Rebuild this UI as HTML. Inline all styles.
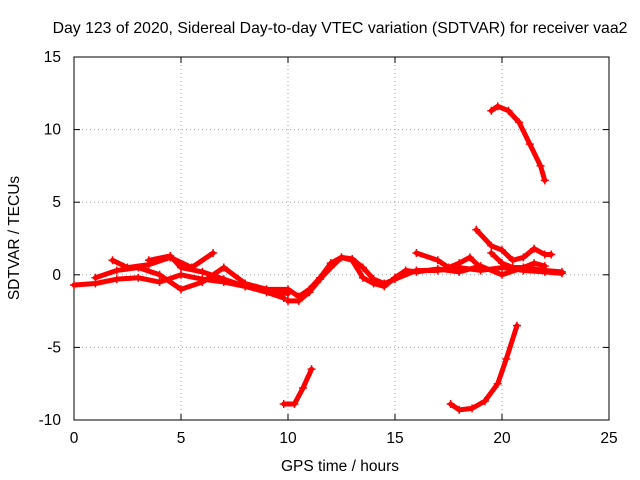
<!DOCTYPE html>
<html><head><meta charset="utf-8"><style>
body{margin:0;background:#fff}
svg{display:block;font-family:"Liberation Sans",sans-serif;font-size:15.5px}
</style></head><body>
<svg id="c" width="640" height="480">
<text x="340" y="33" text-anchor="middle" style="font-size:15.8px">Day 123 of 2020, Sidereal Day-to-day VTEC variation (SDTVAR) for receiver vaa2</text>
<text x="340" y="471" text-anchor="middle">GPS time / hours</text>
<text transform="translate(19,238) rotate(-90)" text-anchor="middle">SDTVAR / TECUs</text>
<g id="grid"></g><g id="axes"></g><g id="marks"></g>
</svg>
<script>
const xTicks=[0,5,10,15,20,25];
const yTicks=[-10,-5,0,5,10,15];
const s1=[[0,-0.7],[1,-0.6],[2,-0.3],[3,-0.2],[4,-0.5],[5,0],[6,-0.3],[7,-0.5],[8,-0.8],[9,-1.2],[9.8,-1.6]];
const s2=[[1.8,1.0],[2.5,0.5],[3.5,0.7],[4.5,1.2],[5.5,0.5],[6.5,1.5]];
const s3=[[1,-0.2],[2,0.3],[3,0.5],[4,0],[5,-1],[6,-0.5],[7,0.5],[8,-0.6],[9,-1.0],[10,-1.3]];
const s4=[[3.5,1.0],[4.5,1.3],[5,0.5],[6,0.2],[7,-0.3],[8,-0.8],[9,-1.0],[10,-1.0],[10.5,-1.5],[11,-1.0],[11.5,-0.2],[12,0.8],[12.5,1.2],[13,1.1],[13.5,0.5],[14,-0.3],[14.5,-0.6],[15,-0.3],[16,0.3],[17,0.3],[18,0.5],[19,0.3],[20,0.5],[21,0.3],[22,0.2],[22.8,0.1]];
const s5=[[10,-1.8],[10.5,-1.8],[11,-1.2],[11.5,-0.3],[12,0.5],[12.5,1.2],[13,1.0],[13.5,-0.2],[14,-0.6],[14.5,-0.8],[15,-0.2],[15.5,0.3],[16,0.2],[17,0.4],[18,0.2],[19,0.6],[20,0.0],[21,0.5],[22,0.3],[22.8,0.2]];
const s6=[[16,1.5],[17,1.0],[17.5,0.5],[18,0.8],[18.5,1.2],[19,0.5]];
const s7=[[18.8,3.1],[19.5,2.0],[20,1.7],[20.5,1.0],[21,1.2],[21.5,1.8],[22,1.4],[22.3,1.4]];
const s8=[[19.5,1.5],[20,0.8],[20.5,0.5],[21,0.5],[21.5,0.8],[22,0.6]];
const s9=[[19.5,11.3],[19.8,11.6],[20.3,11.3],[20.8,10.5],[21.3,9],[21.8,7.5],[22,6.5]];
const s10=[[9.8,-8.9],[10.3,-8.9],[10.7,-7.8],[11.1,-6.5]];
const s11=[[17.6,-8.9],[18,-9.3],[18.6,-9.2],[19.2,-8.7],[19.8,-7.5],[20.2,-5.8],[20.7,-3.5]];
const series=[s1,s2,s3,s4,s5,s6,s7,s8,s9,s10,s11];
const L=74,R=609,T=57,B=420;
const X=v=>L+(v-0)/25*(R-L), Y=v=>B-(v+10)/25*(B-T);
const NS="http://www.w3.org/2000/svg";
function mk(t,a,p){const e=document.createElementNS(NS,t);for(const k in a)e.setAttribute(k,a[k]);p.appendChild(e);return e;}
const g=document.getElementById('grid'),ax=document.getElementById('axes'),m=document.getElementById('marks');
xTicks.forEach(t=>{
 if(t>0&&t<25){const l=mk('line',{x1:X(t),x2:X(t),y1:T,y2:B,stroke:'#a0a0a0','stroke-dasharray':'1,3'},g);
 }
 const tx=mk('text',{x:X(t),y:B+23,'text-anchor':'middle'},ax);tx.textContent=t;
 
 mk('line',{x1:X(t),x2:X(t),y1:B,y2:B-6,stroke:'#000'},ax);mk('line',{x1:X(t),x2:X(t),y1:T,y2:T+6,stroke:'#000'},ax);
});
yTicks.forEach(t=>{
 if(t>-10&&t<15){const l=mk('line',{x1:L,x2:R,y1:Y(t),y2:Y(t),stroke:'#a0a0a0','stroke-dasharray':'1,3'},g);
 }
 const tx=mk('text',{x:L-13,y:Y(t)+5,'text-anchor':'end'},ax);tx.textContent=t;
 
 mk('line',{x1:L,x2:L+6,y1:Y(t),y2:Y(t),stroke:'#000'},ax);mk('line',{x1:R,x2:R-6,y1:Y(t),y2:Y(t),stroke:'#000'},ax);
});
const fr=mk('rect',{x:L,y:T,width:R-L,height:B-T,fill:'none',stroke:'#000'},ax);

series.forEach((s,i)=>{
 const p=mk('polyline',{points:s.map(d=>X(d[0])+','+Y(d[1])).join(' '),fill:'none',stroke:'#f00','stroke-width':5,'stroke-linejoin':'round','stroke-linecap':'round'},m);
 
 
 s.forEach(d=>{const c=mk('path',{d:`M${X(d[0])-4},${Y(d[1])}h8M${X(d[0])},${Y(d[1])-4}v8`,stroke:'#f00','stroke-width':1.5},m);
 
 });
});
</script>
</body></html>
